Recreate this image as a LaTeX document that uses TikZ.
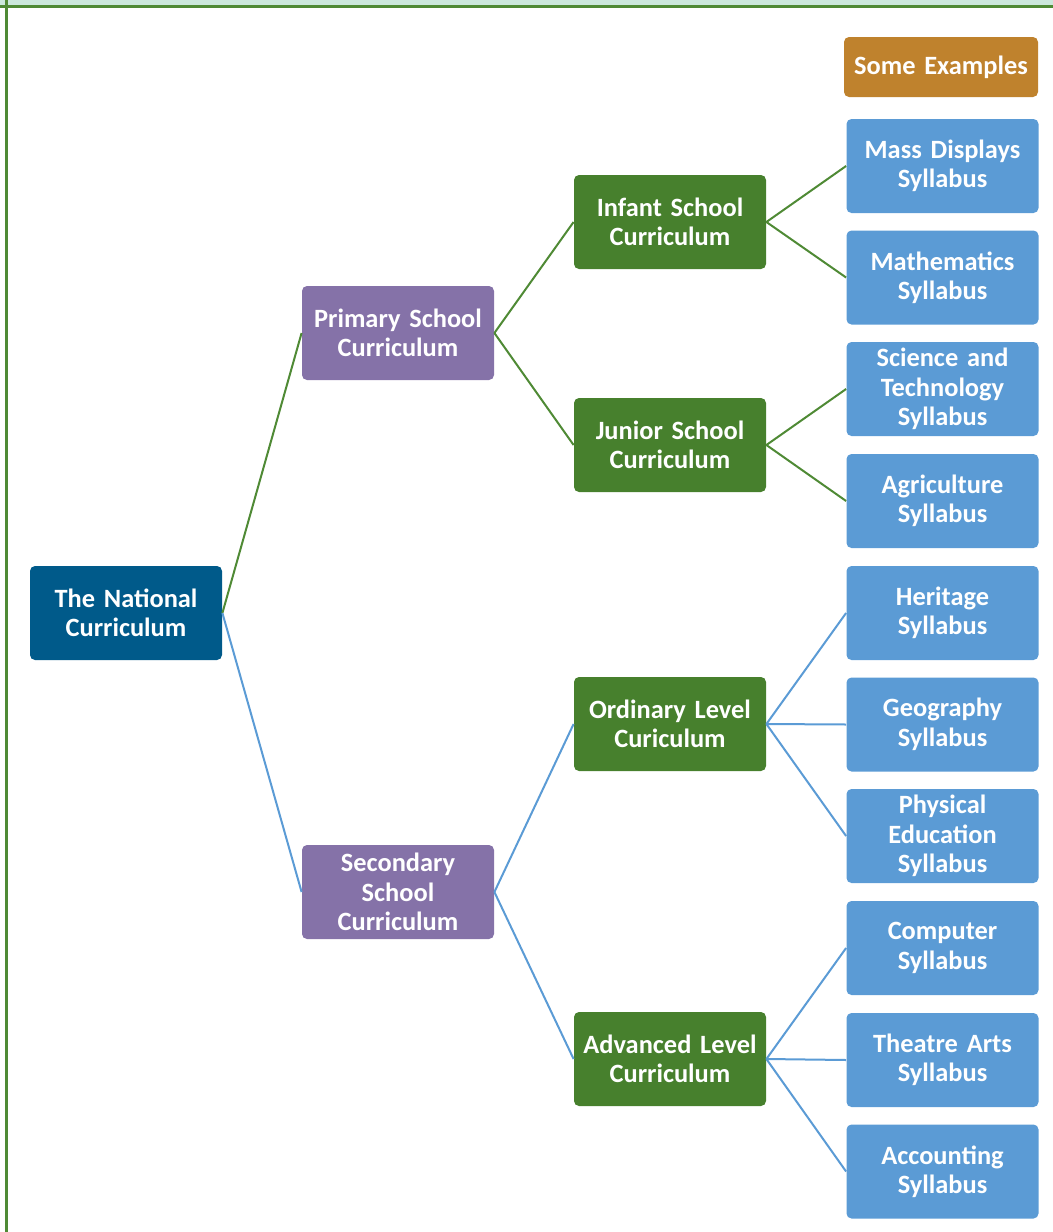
\documentclass[tikz,border=0pt]{standalone}
\usepackage{fontspec}
\setmainfont{Carlito}
\definecolor{sblue}{HTML}{5B9BD5}
\definecolor{sgreen}{HTML}{47802D}
\definecolor{spurple}{HTML}{8572A8}
\definecolor{sroot}{HTML}{005A8A}
\definecolor{socher}{HTML}{BF822D}
\definecolor{lgreen}{HTML}{4F8A35}
\definecolor{bandfill}{HTML}{CCE8DC}
\begin{document}
\begin{tikzpicture}[x=0.5pt,y=-0.5pt,
  box/.style={rounded corners=2.5pt,minimum width=96pt,minimum height=47pt,text width=94pt,align=center,inner sep=0pt,text=white,font=\fontsize{13.2}{14.7}\selectfont\bfseries},
  leaf/.style={box,fill=sblue},
  mid/.style={box,fill=sgreen},
  lvl/.style={box,fill=spurple},
  rootbox/.style={box,fill=sroot},
  hdr/.style={box,fill=socher,minimum width=97pt,minimum height=30pt},
  gline/.style={draw=lgreen,line width=1pt},
  bline/.style={draw=sblue,line width=1pt}]
\useasboundingbox (0,0) rectangle (1053,1232);
\fill[bandfill] (0,0) rectangle (1053,5);
\draw[draw=lgreen,line width=1.5pt] (0,6) -- (1053,6);
\draw[draw=lgreen,line width=1.5pt] (6,0) -- (6,1232);

\node[hdr] (ex) at (941,67) {Some Examples};
\node[leaf] (l1) at (942.5,166) {Mass Displays\\Syllabus};
\node[leaf] (l2) at (942.5,277.5) {Mathematics\\Syllabus};
\node[leaf] (l3) at (942.5,389) {Science and\\Technology\\Syllabus};
\node[leaf] (l4) at (942.5,501) {Agriculture\\Syllabus};
\node[leaf] (l5) at (942.5,613) {Heritage\\Syllabus};
\node[leaf] (l6) at (942.5,724.5) {Geography\\Syllabus};
\node[leaf] (l7) at (942.5,836) {Physical\\Education\\Syllabus};
\node[leaf] (l8) at (942.5,948) {Computer\\Syllabus};
\node[leaf] (l9) at (942.5,1060) {Theatre Arts\\Syllabus};
\node[leaf] (l10) at (942.5,1171.5) {Accounting\\Syllabus};

\node[mid] (inf) at (670,222) {Infant School\\Curriculum};
\node[mid] (jun) at (670,445) {Junior School\\Curriculum};
\node[mid] (ord) at (670,724) {Ordinary Level\\Curiculum};
\node[mid] (adv) at (670,1059) {Advanced Level\\Curriculum};

\node[lvl] (pri) at (398,333) {Primary School\\Curriculum};
\node[lvl] (sec) at (398,892) {Secondary\\School\\Curriculum};

\node[rootbox] (root) at (126,613) {The National\\Curriculum};

\draw[gline] (root.east) -- (pri.west);
\draw[bline] (root.east) -- (sec.west);
\draw[gline] (pri.east) -- (inf.west);
\draw[gline] (pri.east) -- (jun.west);
\draw[bline] (sec.east) -- (ord.west);
\draw[bline] (sec.east) -- (adv.west);
\draw[gline] (inf.east) -- (l1.west);
\draw[gline] (inf.east) -- (l2.west);
\draw[gline] (jun.east) -- (l3.west);
\draw[gline] (jun.east) -- (l4.west);
\draw[bline] (ord.east) -- (l5.west);
\draw[bline] (ord.east) -- (l6.west);
\draw[bline] (ord.east) -- (l7.west);
\draw[bline] (adv.east) -- (l8.west);
\draw[bline] (adv.east) -- (l9.west);
\draw[bline] (adv.east) -- (l10.west);
\end{tikzpicture}
\end{document}
